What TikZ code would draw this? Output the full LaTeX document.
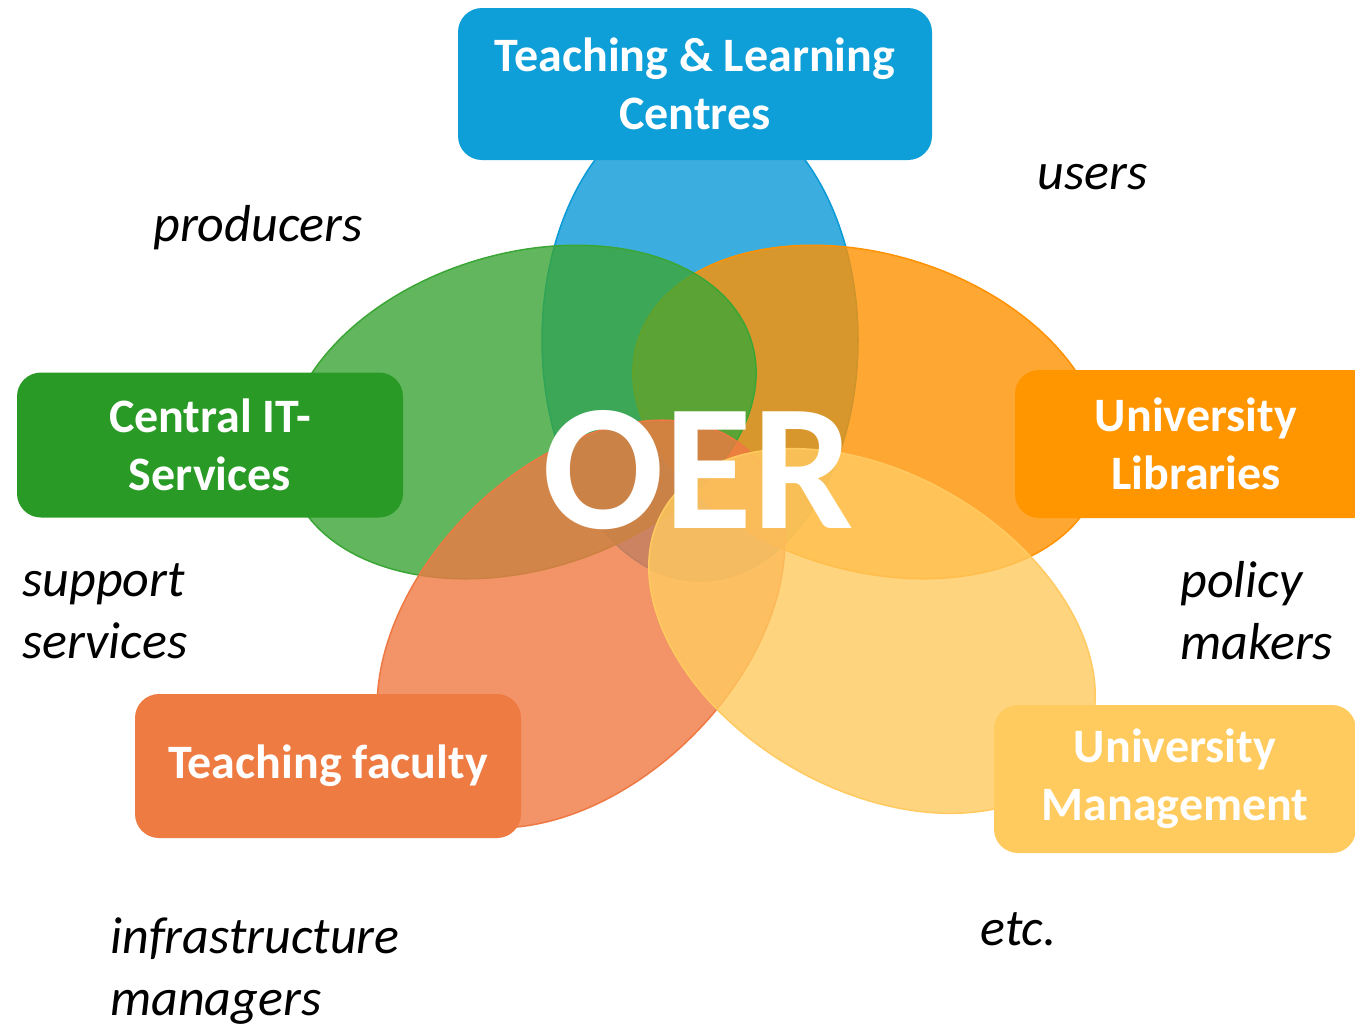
\documentclass[tikz,border=0pt]{standalone}
\usepackage{fontspec}
\setmainfont{Carlito}
\usepackage{tikz}

\definecolor{tlcbox}{HTML}{0E9ED8}
\definecolor{tlcpetal}{HTML}{0A9AD7}
\definecolor{itbox}{HTML}{2A9A26}
\definecolor{itpetal}{HTML}{3BA636}
\definecolor{libbox}{HTML}{FF9600}
\definecolor{libpetal}{HTML}{FF9200}
\definecolor{facbox}{HTML}{EE7B42}
\definecolor{facpetal}{HTML}{EF7943}
\definecolor{mgmtbox}{HTML}{FFCB5E}
\definecolor{mgmtpetal}{HTML}{FFCA60}

\begin{document}
\begin{tikzpicture}[x=0.5pt, y=-0.5pt,
  petal/.style={fill=#1, fill opacity=0.8, draw=#1, line width=0.75pt},
  group/.style={fill=#1, rounded corners=12pt, text=white, inner sep=0pt,
    font=\fontsize{24}{29}\selectfont\bfseries, align=center},
  role/.style={font=\fontsize{26}{31}\selectfont\itshape, align=left,
    anchor=base west, inner sep=0pt}]
  \clip (0,0) rectangle (1355,1030);
  \fill[white] (0,0) rectangle (1355,1030);

  \draw[petal=tlcpetal] (700,340) ellipse [x radius=158, y radius=241];
  \draw[petal=libpetal, rotate around={-17:(868,412)}] (868,412) ellipse [x radius=241, y radius=158];
  \draw[petal=itpetal, rotate around={17:(521,412)}] (521,412) ellipse [x radius=241, y radius=158];
  \draw[petal=facpetal, rotate around={45:(581,624)}] (581,624) ellipse [x radius=241, y radius=158];
  \draw[petal=mgmtpetal, rotate around={-30:(872,631)}] (872,631) ellipse [x radius=241, y radius=158];

  \node[group=tlcbox, minimum width=237pt, minimum height=76pt] (tlc) at (695,84) {Teaching \& Learning\\Centres};
  \node[group=itbox, minimum width=193pt, minimum height=72.5pt] (it) at (210,445) {Central IT-\\Services};
  \node[group=libbox, minimum width=181pt, minimum height=74pt] (lib) at (1196,444) {University\\Libraries};
  \node[group=facbox, minimum width=193pt, minimum height=72pt] (fac) at (328,766) {Teaching faculty};
  \node[group=mgmtbox, minimum width=181pt, minimum height=74pt] (mgmt) at (1175,779) {University\\Management};

  \node[text=white, font=\fontsize{90}{100}\selectfont\bfseries, anchor=base, inner sep=0pt] (oer) at (698,528) {OER};

  \node[role] (producers) at (153,241) {producers};
  \node[role] (users) at (1037,189) {users};
  \node[role] (support) at (22,658) {support\\services};
  \node[role] (policy) at (1180,659) {policy\\makers};
  \node[role] (infra) at (110,1015) {infrastructure\\managers};
  \node[role] (etc) at (980,945) {etc.};
\end{tikzpicture}
\end{document}
